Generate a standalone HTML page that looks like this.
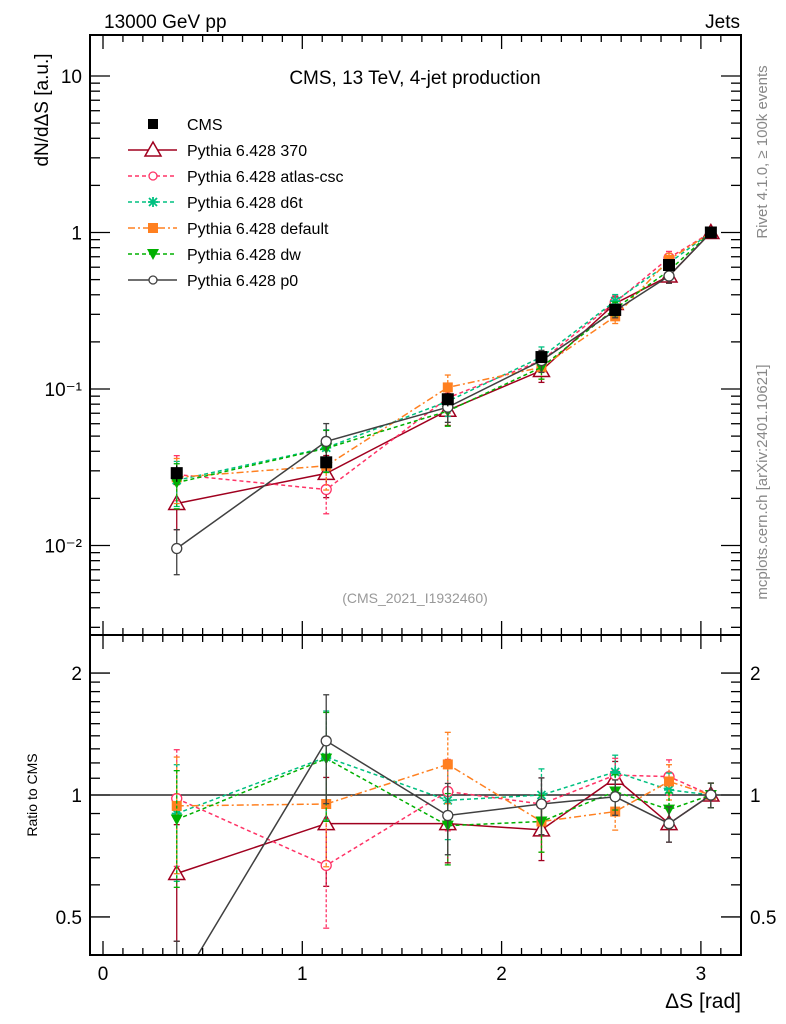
<!DOCTYPE html>
<html><head><meta charset="utf-8"><style>
body{margin:0;background:#fff;}
svg{display:block;font-family:"Liberation Sans",sans-serif;}
</style></head><body>
<svg id="c" width="786" height="1024" viewBox="0 0 786 1024">
<text x="104" y="28" font-size="19">13000 GeV pp</text>
<text x="740" y="28" font-size="19" text-anchor="end">Jets</text>
<text x="415" y="84" font-size="19" text-anchor="middle">CMS, 13 TeV, 4-jet production</text>
<text x="415" y="603" font-size="14" fill="#999" text-anchor="middle">(CMS_2021_I1932460)</text>
<text transform="translate(767,152) rotate(-90)" font-size="15" fill="#888" text-anchor="middle">Rivet 4.1.0, ≥ 100k events</text>
<text transform="translate(767,482) rotate(-90)" font-size="15" fill="#888" text-anchor="middle">mcplots.cern.ch [arXiv:2401.10621]</text>
<text transform="translate(48,110) rotate(-90)" font-size="19" text-anchor="middle">dN/dΔS [a.u.]</text>
<text transform="translate(37,795) rotate(-90)" font-size="14" text-anchor="middle">Ratio to CMS</text>
<text x="741" y="1008" font-size="21" text-anchor="end">ΔS [rad]</text>
<g id="g"></g>
</svg>
<script>
const xVals=[0.37,1.12,1.73,2.2,2.57,2.84,3.05];
const cmsVals=[0.029,0.034,0.086,0.16,0.32,0.62,1.0];
const cmsErr=[0.12,0.12,0.1,0.08,0.08,0.07,0.05];
const r370=[0.64,0.85,0.85,0.82,1.1,0.85,1.0];
const rAtlas=[0.98,0.67,1.02,0.95,1.12,1.11,1.0];
const rD6t=[0.90,1.24,0.97,1.0,1.14,1.03,1.0];
const rDefault=[0.94,0.95,1.19,0.86,0.91,1.08,1.0];
const rDw=[0.87,1.23,0.84,0.86,1.02,0.92,1.0];
const rP0=[0.33,1.36,0.89,0.95,0.99,0.85,1.0];
const mcErr=[0.32,0.3,0.2,0.16,0.1,0.1,0.07];
const xTicks=[0,1,2,3];
const yMainTicks=[0.01,0.1,1,10];
const yMainLabels=["10⁻²","10⁻¹","1","10"];
const yRatioTicks=[0.5,1,2];
const yRatioLabels=["0.5","1","2"];
const names=["Pythia 6.428 370","Pythia 6.428 atlas-csc","Pythia 6.428 d6t","Pythia 6.428 default","Pythia 6.428 dw","Pythia 6.428 p0"];

const L=90,R=741,T=35,M=635,B=955;
const X=v=>103+v*199.3;
const Y=v=>232.5-Math.log10(v)*156.5;
const YR=v=>795-Math.log10(v)*405;
const g=document.getElementById('g');
const NS="http://www.w3.org/2000/svg";
function el(t,a,p){const e=document.createElementNS(NS,t);for(const k in a)e.setAttribute(k,a[k]);(p||g).appendChild(e);return e;}

const series=[
 {r:r370,c:"#a0001f",d:"",m:"tri",n:"series-370"},
 {r:rAtlas,c:"#ff3366",d:"4,3",m:"circ",n:"series-atlas-csc"},
 {r:rD6t,c:"#00c080",d:"4,3",m:"star",n:"series-d6t"},
 {r:rDefault,c:"#ff8020",d:"7,3,2,3",m:"sq",n:"series-default"},
 {r:rDw,c:"#00b000",d:"4,3",m:"dtri",n:"series-dw"},
 {r:rP0,c:"#404040",d:"",m:"circ",n:"series-p0"}];

function marker(type,x,y,c,s,p){
 if(type==="tri") return el('polygon',{points:`${x},${y-8} ${x-8},${y+6} ${x+8},${y+6}`,fill:'#fff',stroke:c,'stroke-width':1.5},p);
 if(type==="dtri") return el('polygon',{points:`${x-6},${y-5} ${x+6},${y-5} ${x},${y+6}`,fill:c},p);
 if(type==="circ") return el('circle',{cx:x,cy:y,r:s||5,fill:'#fff',stroke:c,'stroke-width':1.3},p);
 if(type==="sq") return el('rect',{x:x-5,y:y-5,width:10,height:10,fill:c},p);
 if(type==="bsq") return el('rect',{x:x-6,y:y-6,width:12,height:12,fill:c},p);
 return el('path',{d:`M${x-5},${y}h10M${x},${y-5}v10M${x-4},${y-4}l8,8M${x+4},${y-4}l-8,8`,stroke:c,'stroke-width':1.8},p);
}
const clipM=el('clipPath',{id:'cm'});el('rect',{x:L,y:T,width:R-L,height:M-T},clipM);
const clipR=el('clipPath',{id:'cr'});el('rect',{x:L,y:M,width:R-L,height:B-M},clipR);
const gm=el('g',{'clip-path':'url(#cm)'});
const gr=el('g',{'clip-path':'url(#cr)'});

el('line',{x1:L,x2:R,y1:YR(1),y2:YR(1),stroke:'#000','stroke-width':1.2},gr);

series.forEach(s=>{
 const mv=s.r.map((r,i)=>r*cmsVals[i]);
 const gs=el('g',{},gm);
 const gsr=el('g',{},gr);
 [[gs,mv,Y],[gsr,s.r,YR]].forEach(([pg,vals,YF])=>{
  vals.forEach((v,i)=>{const e=mcErr[i];const x=X(xVals[i]);const yu=YF(v*(1+e)),yd=YF(Math.max(v*(1-e),1e-4));
   el('line',{x1:x,x2:x,y1:yu,y2:yd,stroke:s.c,'stroke-width':1.3,'stroke-dasharray':s.d?'3,2':''},pg);
   el('line',{x1:x-3,x2:x+3,y1:yu,y2:yu,stroke:s.c,'stroke-width':1.3},pg);
   el('line',{x1:x-3,x2:x+3,y1:yd,y2:yd,stroke:s.c,'stroke-width':1.3},pg);});
  el('polyline',{points:vals.map((v,i)=>X(xVals[i])+','+YF(v)).join(' '),fill:'none',stroke:s.c,'stroke-width':1.5,'stroke-dasharray':s.d},pg);
  vals.forEach((v,i)=>marker(s.m,X(xVals[i]),YF(v),s.c,null,pg));
 });
});
const gc=el('g',{},gm);
cmsVals.forEach((v,i)=>{el('line',{x1:X(xVals[i]),x2:X(xVals[i]),y1:Y(v*(1+cmsErr[i])),y2:Y(v*(1-cmsErr[i])),stroke:'#000','stroke-width':1.3},gc);marker('bsq',X(xVals[i]),Y(v),'#000',null,gc);});

['main','ratio'].forEach((n,ii)=>{const r=el('rect',{x:L,y:ii?M:T,width:R-L,height:ii?B-M:M-T,fill:'none',stroke:'#000','stroke-width':2});});
for(let k=0;k<=32;k++){const v=k/10;const big=k%10===0;const len=big?14:7;const x=X(v);if(x>R)break;
 [[T,1],[M,-1],[M,1],[B,-1]].forEach(([y,d])=>el('line',{x1:x,x2:x,y1:y,y2:y+d*len,stroke:'#000','stroke-width':1.3}));}
xTicks.forEach(v=>{const t=el('text',{x:X(v),y:980,'font-size':19,'text-anchor':'middle'});t.textContent=v;});
for(let d=-3;d<=1;d++)for(let k=1;k<10;k++){const v=k*Math.pow(10,d);const y=Y(v);if(y<T||y>M)continue;const len=k===1?20:10;
 el('line',{x1:L,x2:L+len,y1:y,y2:y,stroke:'#000','stroke-width':1.3});el('line',{x1:R,x2:R-len,y1:y,y2:y,stroke:'#000','stroke-width':1.3});}
yMainTicks.forEach((v,i)=>{const t=el('text',{x:82,y:Y(v)+7,'font-size':19,'text-anchor':'end'});t.textContent=yMainLabels[i];});
[0.5,0.6,0.7,0.8,0.9,1,1.1,1.2,1.3,1.4,1.5,1.6,1.7,1.8,1.9,2].forEach(v=>{const y=YR(v);const big=[0.5,1,2].includes(v);const len=big?20:10;
 el('line',{x1:L,x2:L+len,y1:y,y2:y,stroke:'#000','stroke-width':1.3});el('line',{x1:R,x2:R-len,y1:y,y2:y,stroke:'#000','stroke-width':1.3});});
yRatioTicks.forEach((v,i)=>{const y=YR(v)+7;
 const t=el('text',{x:82,y:y,'font-size':19,'text-anchor':'end'});t.textContent=yRatioLabels[i];
 const t2=el('text',{x:750,y:y,'font-size':19});t2.textContent=yRatioLabels[i];});
const lg=el('g',{});
const rows=[124,150,176,202,228,254,280];
const ec=el('g',{},lg);
marker('sq',153,rows[0],'#000',null,ec);
const tc=el('text',{x:187,y:rows[0]+6,'font-size':16},ec);tc.textContent='CMS';
series.forEach((s,i)=>{const eg=el('g',{},lg);
 const y=rows[i+1];el('line',{x1:128,x2:177,y1:y,y2:y,stroke:s.c,'stroke-width':1.5,'stroke-dasharray':s.d},eg);
 marker(s.m,153,y,s.c,s.m==='circ'?4:null,eg);
 const t=el('text',{x:187,y:y+6,'font-size':16},eg);t.textContent=names[i];});
</script>
</body></html>
